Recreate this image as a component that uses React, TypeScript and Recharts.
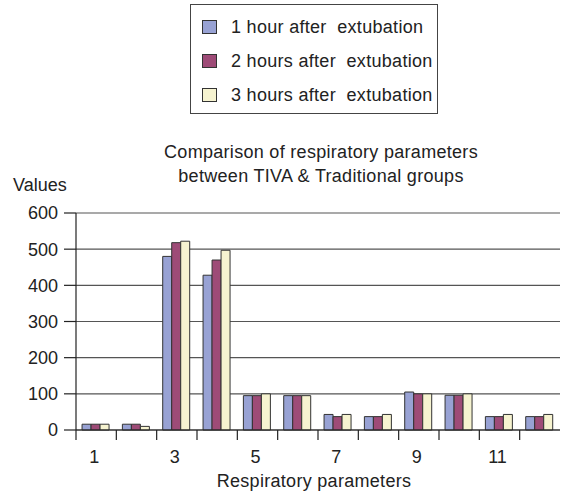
import React from "react";
import { BarChart, Bar, XAxis, YAxis, CartesianGrid } from "recharts";

const categories = ["1", "2", "3", "4", "5", "6", "7", "8", "9", "10", "11", "12"];
const oneHour = [16, 16, 480, 428, 95, 95, 43, 37, 105, 96, 37, 37];
const twoHours = [16, 16, 518, 470, 95, 95, 37, 37, 100, 96, 37, 37];
const threeHours = [16, 10, 522, 497, 100, 95, 43, 43, 100, 100, 43, 43];
const yTicks = [0, 100, 200, 300, 400, 500, 600];

const seriesNames = ["1 hour after  extubation", "2 hours after  extubation", "3 hours after  extubation"];
const COLORS = ["#98a2d4", "#9e4b77", "#f6f3d0"];

const data = categories.map((c, i) => ({
  name: c,
  h1: oneHour[i],
  h2: twoHours[i],
  h3: threeHours[i],
}));

const FONT = "'Liberation Sans', Arial, sans-serif";
const W = 565;
const H = 492;
const LEFT = 76;
const RIGHT = 5;
const BAND = (W - LEFT - RIGHT) / categories.length;

function XTick(props: any) {
  const { x, y, index, payload } = props;
  return (
    <g>
      <line x1={x - BAND / 2} y1={y} x2={x - BAND / 2} y2={y + 10} stroke="#222" strokeWidth={1.2} />
      {index % 2 === 0 && (
        <text x={x - 2} y={y + 33} textAnchor="middle" fontSize={18} fill="#222" fontFamily={FONT}>
          {payload.value}
        </text>
      )}
    </g>
  );
}

export default function App() {
  return (
    <div style={{ position: "absolute", left: 0, top: 0, width: W, height: H, background: "#fff", fontFamily: FONT, color: "#222" }}>
      <BarChart
        width={W}
        height={H}
        data={data}
        margin={{ top: 213, right: RIGHT, left: 0, bottom: 0 }}
        barCategoryGap="15%"
        barGap={0}
      >
        <CartesianGrid vertical={false} stroke="#555" strokeWidth={1.2} />
        <XAxis
          dataKey="name"
          height={62}
          interval={0}
          tickLine={false}
          tickSize={0}
          tickMargin={0}
          axisLine={{ stroke: "#222", strokeWidth: 1.2 }}
          tick={<XTick />}
        />
        <YAxis
          width={LEFT}
          domain={[0, 600]}
          ticks={yTicks}
          tickSize={12}
          tickMargin={6}
          tickLine={{ stroke: "#222", strokeWidth: 1.2 }}
          axisLine={{ stroke: "#222", strokeWidth: 1.2 }}
          tick={{ fontSize: 18, fill: "#222", fontFamily: FONT }}
        />
        <Bar dataKey="h1" name={seriesNames[0]} fill={COLORS[0]} stroke="#333" strokeWidth={1} isAnimationActive={false} />
        <Bar dataKey="h2" name={seriesNames[1]} fill={COLORS[1]} stroke="#333" strokeWidth={1} isAnimationActive={false} />
        <Bar dataKey="h3" name={seriesNames[2]} fill={COLORS[2]} stroke="#333" strokeWidth={1} isAnimationActive={false} />
      </BarChart>

      <div style={{ position: "absolute", left: 190, top: 4, width: 248, height: 110, border: "1.5px solid #444", boxSizing: "border-box" }}>
        {seriesNames.map((n, i) => (
          <div key={n} style={{ position: "absolute", left: 11, top: 11 + i * 34, height: 22, display: "flex", alignItems: "center" }}>
            <div style={{ width: 15, height: 14, background: COLORS[i], border: "1px solid #333", boxSizing: "border-box" }} />
            <span style={{ marginLeft: 14, fontSize: 18, letterSpacing: 0.3, whiteSpace: "pre" }}>{n}</span>
          </div>
        ))}
      </div>

      <div style={{ position: "absolute", left: 71, top: 140, width: 500, textAlign: "center", fontSize: 18, letterSpacing: 0.3, lineHeight: "24px" }}>
        Comparison of respiratory parameters
        <br />
        between TIVA &amp; Traditional groups
      </div>

      <div style={{ position: "absolute", left: 13, top: 174, fontSize: 18, lineHeight: "22px" }}>Values</div>

      <div style={{ position: "absolute", left: 114, top: 470, width: 400, textAlign: "center", fontSize: 18, letterSpacing: 0.3, lineHeight: "22px" }}>
        Respiratory parameters
      </div>
    </div>
  );
}
